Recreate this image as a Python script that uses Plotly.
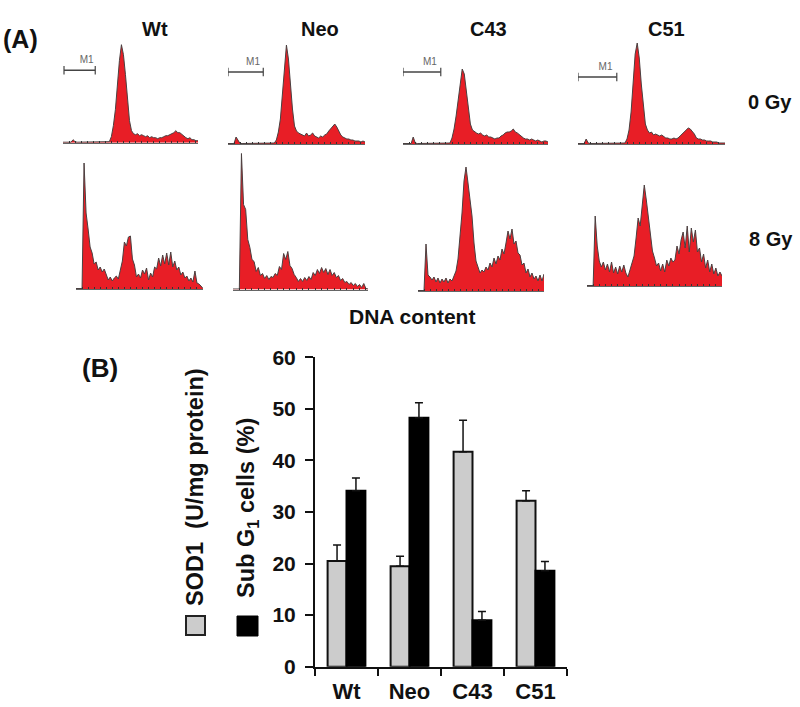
import numpy as np
import plotly.graph_objects as go

W, H = 800, 707
RED = "#E81E26"
EDGE = "#4a4040"
FONT = "Liberation Sans, Arial, sans-serif"

# ---------- Panel A: DNA histograms (counts per channel) ----------
wt_0gy = [0.5,0.5,0.5,0.5,0.5,3,1,0.5,0.5,0.5,0.5,0.5,0.5,0.5,0.5,0.5,0.5,0.5,0.5,0.5,0.5,0.5,0.5,
          1,6,17,33,58,82,98,88,68,42,22,12,9,
          8,9,7,8,7,6,7,5,6,5,5,4,5,
          5,6,7,7,8,9,10,12,10,10,8,
          6,5,4,5,3,3,2,2]
neo_0gy = [0.5,0.5,0.5,0.5,7,3,0.5,0.5,0.5,0.5,0.5,0.5,1,0.5,0.5,0.5,1,0.5,0.5,1,0.5,1,0.5,1,
           4,12,25,50,78,99,85,58,35,18,13,11,
           10,9,8,11,8,9,11,8,7,6,8,7,9,10,
           13,15,18,20,17,13,
           9,7,6,5,5,4,4,3,3,3,2,3,2]
c43_0gy = [0.5,0.5,0.5,0.5,0.5,7,1,0.5,0.5,0.5,0.5,0.5,0.5,0.5,0.5,0.5,0.5,0.5,0.5,0.5,0.5,0.5,0.5,
           1,6,15,28,45,62,75,70,52,34,20,14,
           12,11,10,11,9,8,9,7,7,6,5,6,6,8,9,11,12,12,13,15,12,11,
           9,8,6,5,5,4,5,4,3,4,3,2,3,3,2]
c51_0gy = [0.5,0.5,0.5,0.5,5,1,0.5,0.5,0.5,0.5,0.5,0.5,0.5,0.5,0.5,0.5,0.5,0.5,0.5,0.5,0.5,0.5,0.5,
           1,5,14,32,62,90,101,86,60,38,20,14,
           11,12,9,10,9,8,9,7,6,6,5,5,6,5,6,8,10,13,15,16,15,13,10,
           6,5,5,4,4,3,3,3,2,2,2,1,1,1,1]
wt_8gy = [0.5,0.5,0.5,0.5,126,76,60,42,36,25,27,19,22,17,20,14,9,12,8,11,13,10,19,28,47,43,52,53,30,24,
          12,15,11,19,15,21,9,16,12,22,20,31,23,34,25,36,24,37,22,28,19,22,14,17,11,13,8,11,7,18,6,5,3,0.5]
neo_8gy = [0.5,0.5,0.5,0.5,136,85,80,50,42,30,28,18,22,14,16,11,14,10,13,12,16,14,23,20,36,30,38,24,21,15,
           12,8,11,8,12,9,13,10,17,14,20,16,22,17,21,15,20,14,17,12,14,9,11,7,8,5,7,4,6,3,5,2,6,1,0.5]
c43_8gy = [0.5,0.5,0.5,0.5,47,16,14,11,14,9,13,8,12,9,13,8,12,10,15,20,32,55,78,110,124,108,92,75,48,30,24,
           18,21,19,24,21,28,24,33,27,35,31,42,37,48,60,52,62,47,50,38,36,26,28,18,22,14,18,12,15,10,16,10,17]
c51_8gy = [0.5,0.5,0.5,0.5,70,40,25,19,24,16,22,14,24,13,19,12,20,14,21,13,9,16,22,30,48,68,60,84,101,86,68,
           52,35,28,20,23,15,22,14,26,20,28,24,26,40,32,46,54,38,60,34,58,44,56,34,38,24,32,18,26,14,22,12,18,10,14,10]

hist_series = [wt_0gy, neo_0gy, c43_0gy, c51_0gy, wt_8gy, neo_8gy, c43_8gy, c51_8gy]
# pixel box of each histogram: left, right, top, baseline
hist_left = [63, 228, 403, 578, 76, 233, 418, 587]
hist_right = [198, 365, 548, 725, 203, 368, 544, 722]
hist_base = [142.7, 144, 144, 144, 289, 289.5, 291, 286]
hist_top = [40, 40, 40, 40, 150, 150, 150, 150]
# M1 gate marker, in channels and counts
m1_start = [0.5, 0, 0, 0]
m1_end = [16, 17.5, 18.5, 19]
m1_level = [72.5, 72, 72, 67]

# ---------- Panel B: bars ----------
cell_lines = ["Wt", "Neo", "C43", "C51"]
sod1 = [20.5, 19.5, 41.7, 32.2]
sod1_err = [3.1, 1.9, 6.1, 1.9]
sub_g1 = [34.1, 48.3, 9.0, 18.6]
sub_g1_err = [2.5, 2.9, 1.7, 1.8]
y_ticks = [0, 10, 20, 30, 40, 50, 60]


def px(x):
    return x / W


def py(y):
    return 1 - y / H


fig = go.Figure()
layout = {}

for i, counts in enumerate(hist_series):
    n = str(i + 1) if i else ""
    channels = np.arange(len(counts))
    fig.add_trace(go.Scatter(
        x=channels, y=counts, mode="lines", fill="tozeroy", fillcolor=RED,
        line=dict(color=EDGE, width=1), xaxis="x" + n, yaxis="y" + n, showlegend=False,
        hoverinfo="skip"))
    layout["xaxis" + n] = dict(
        domain=[px(hist_left[i]), px(hist_right[i])], range=[0, len(counts) - 1],
        showgrid=False, zeroline=False, showticklabels=False, automargin=False,
        ticks="inside", ticklen=2, tickwidth=1, tickcolor="#333333", dtick=3,
        showline=True, linecolor="#666666", linewidth=1, anchor="y" + n)
    layout["yaxis" + n] = dict(
        domain=[py(hist_base[i]), py(hist_top[i])],
        range=[0, hist_base[i] - hist_top[i]], automargin=False,
        showgrid=False, zeroline=False, showticklabels=False, ticks="",
        showline=False, anchor="x" + n)
    if i < 4:
        fig.add_trace(go.Scatter(
            x=[m1_start[i], m1_end[i]], y=[m1_level[i], m1_level[i]],
            mode="lines+markers",
            line=dict(color="#444444", width=1.5),
            marker=dict(symbol="line-ns", size=6, line=dict(color="#444444", width=1.2)),
            xaxis="x" + n, yaxis="y" + n, showlegend=False, hoverinfo="skip"))
        fig.add_trace(go.Scatter(
            x=[(m1_start[i] + m1_end[i]) * 0.71], y=[m1_level[i] + 9.5],
            mode="text", text=["M1"], textfont=dict(size=10, color="#666666", family=FONT),
            xaxis="x" + n, yaxis="y" + n, showlegend=False, hoverinfo="skip"))

fig.add_trace(go.Bar(
    x=cell_lines, y=sod1, name="SOD1 (U/mg protein)", xaxis="x9", yaxis="y9",
    marker=dict(color="#CCCCCC", line=dict(color="#111111", width=2)),
    error_y=dict(type="data", symmetric=False, array=sod1_err, arrayminus=[0, 0, 0, 0],
                 color="#111111", thickness=1.5, width=4),
    showlegend=False))
fig.add_trace(go.Bar(
    x=cell_lines, y=sub_g1, name="Sub G1 cells (%)", xaxis="x9", yaxis="y9",
    marker=dict(color="#000000", line=dict(color="#000000", width=2)),
    error_y=dict(type="data", symmetric=False, array=sub_g1_err, arrayminus=[0, 0, 0, 0],
                 color="#111111", thickness=1.5, width=4),
    showlegend=False))

layout["xaxis9"] = dict(
    domain=[px(315), px(567)], anchor="y9", type="category", tickson="boundaries",
    ticks="outside", ticklen=7, tickwidth=2, tickcolor="#111111", automargin=False,
    showline=True, linecolor="#111111", linewidth=2, showgrid=False, zeroline=False,
    ticklabelstandoff=4,
    tickfont=dict(size=22, family=FONT, color="#111111", weight="bold"))
layout["yaxis9"] = dict(
    domain=[py(666.7), py(357.3)], anchor="x9", range=[0, 60], tickvals=y_ticks,
    ticks="outside", ticklen=8, tickwidth=2, tickcolor="#111111", automargin=False,
    showline=True, linecolor="#111111", linewidth=2, showgrid=False, zeroline=False,
    ticklabelstandoff=5,
    tickfont=dict(size=21, family=FONT, color="#111111", weight="bold"))


def label(text, x, y, size, angle=0, xanchor="center"):
    return dict(text="<b>" + text + "</b>", x=px(x), y=py(y), xref="paper", yref="paper",
                showarrow=False, xanchor=xanchor, yanchor="middle", textangle=angle,
                font=dict(size=size, family=FONT, color="#111111"))


annotations = [
    label("(A)", 1, 39, 25, xanchor="left"),
    label("Wt", 155, 29, 20),
    label("Neo", 320, 29, 20),
    label("C43", 489, 29, 20),
    label("C51", 666, 29, 20),
    label("0 Gy", 770, 102, 20),
    label("8 Gy", 771, 239, 20),
    label("DNA content", 412, 316, 21),
    label("(B)", 80, 368, 26, xanchor="left"),
    label("SOD1  (U/mg protein)", 195, 487, 23.5, angle=-90),
    label("Sub G<sub>1</sub> cells (%)", 247, 508, 23.5, angle=-90),
]

shapes = [
    dict(type="rect", xref="paper", yref="paper", x0=px(186), x1=px(205), y0=py(635), y1=py(616),
         fillcolor="#CCCCCC", line=dict(color="#222222", width=2)),
    dict(type="rect", xref="paper", yref="paper", x0=px(237), x1=px(258), y0=py(636), y1=py(616),
         fillcolor="#000000", line=dict(color="#000000", width=1)),
]

fig.update_layout(
    width=W, height=H, margin=dict(l=0, r=0, t=0, b=0, pad=0, autoexpand=False), autosize=False,
    paper_bgcolor="white", plot_bgcolor="white", barmode="group", bargap=0.4, bargroupgap=0,
    annotations=annotations, shapes=shapes, font=dict(family=FONT), **layout)

fig.write_html("out.html", post_script="document.body.style.margin='0';",
               config={"displayModeBar": False})
